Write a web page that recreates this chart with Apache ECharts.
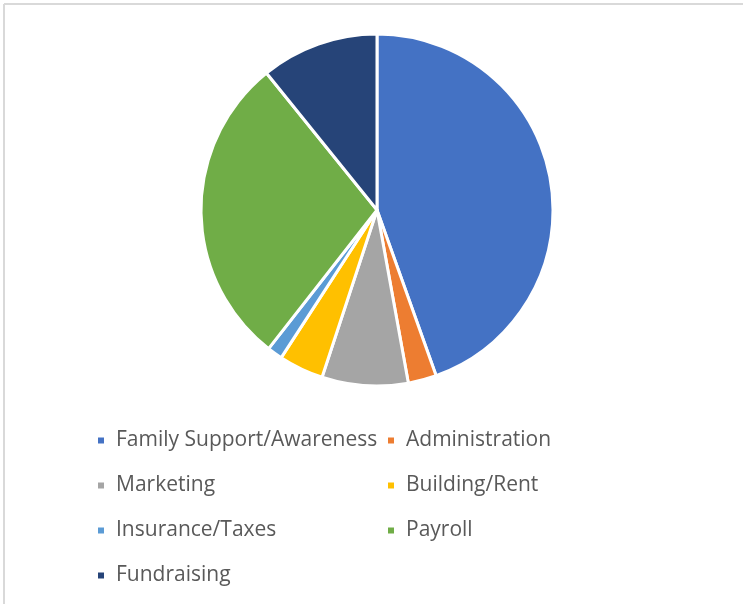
<!DOCTYPE html>
<html><head><meta charset="utf-8">
<script src="https://cdn.jsdelivr.net/npm/echarts@6/dist/echarts.min.js"></script>
<style>html,body{margin:0;padding:0;background:#fff}#c{width:743px;height:604px}</style>
</head><body><div id="c"></div>
<script>
const categories = ["Family Support/Awareness","Administration","Marketing","Building/Rent","Insurance/Taxes","Payroll","Fundraising"];
const values = [44.5, 2.6, 7.9, 4.1, 1.4, 28.6, 10.8];
const colors = ["#4472C4","#ED7D31","#A5A5A5","#FFC000","#5B9BD5","#70AD47","#264478"];
const legendCol1 = ["Family Support/Awareness","Marketing","Insurance/Taxes","Fundraising"];
const legendCol2 = ["Administration","Building/Rent","Payroll"];

const chart = echarts.init(document.getElementById('c'), null, {renderer:'canvas'});
const legendBase = {
  orient:'vertical', icon:'rect', itemWidth:8, itemHeight:8, itemGap:24,
  textStyle:{fontFamily:'Open Sans', fontSize:21, color:'#595959', lineHeight:21, padding:[0,0,0,6]},
  selectedMode:false
};
chart.setOption({
  animation:false,
  color: colors,
  legend:[
    Object.assign({}, legendBase, {data:legendCol1, left:91, top:425}),
    Object.assign({}, legendBase, {data:legendCol2, left:381, top:425})
  ],
  graphic:[
    {type:'line', shape:{x1:4,y1:4,x2:743,y2:4}, style:{stroke:'#d9d9d9', lineWidth:2}},
    {type:'line', shape:{x1:4,y1:4,x2:4,y2:604}, style:{stroke:'#d9d9d9', lineWidth:2}}
  ],
  series:[{
    type:'pie',
    center:[377,210],
    radius:[0,176],
    startAngle:90,
    clockwise:true,
    label:{show:false},
    labelLine:{show:false},
    itemStyle:{borderColor:'#fff', borderWidth:3},
    emphasis:{disabled:true},
    data: categories.map((n,i)=>({name:n, value:values[i]}))
  }]
});
</script></body></html>
